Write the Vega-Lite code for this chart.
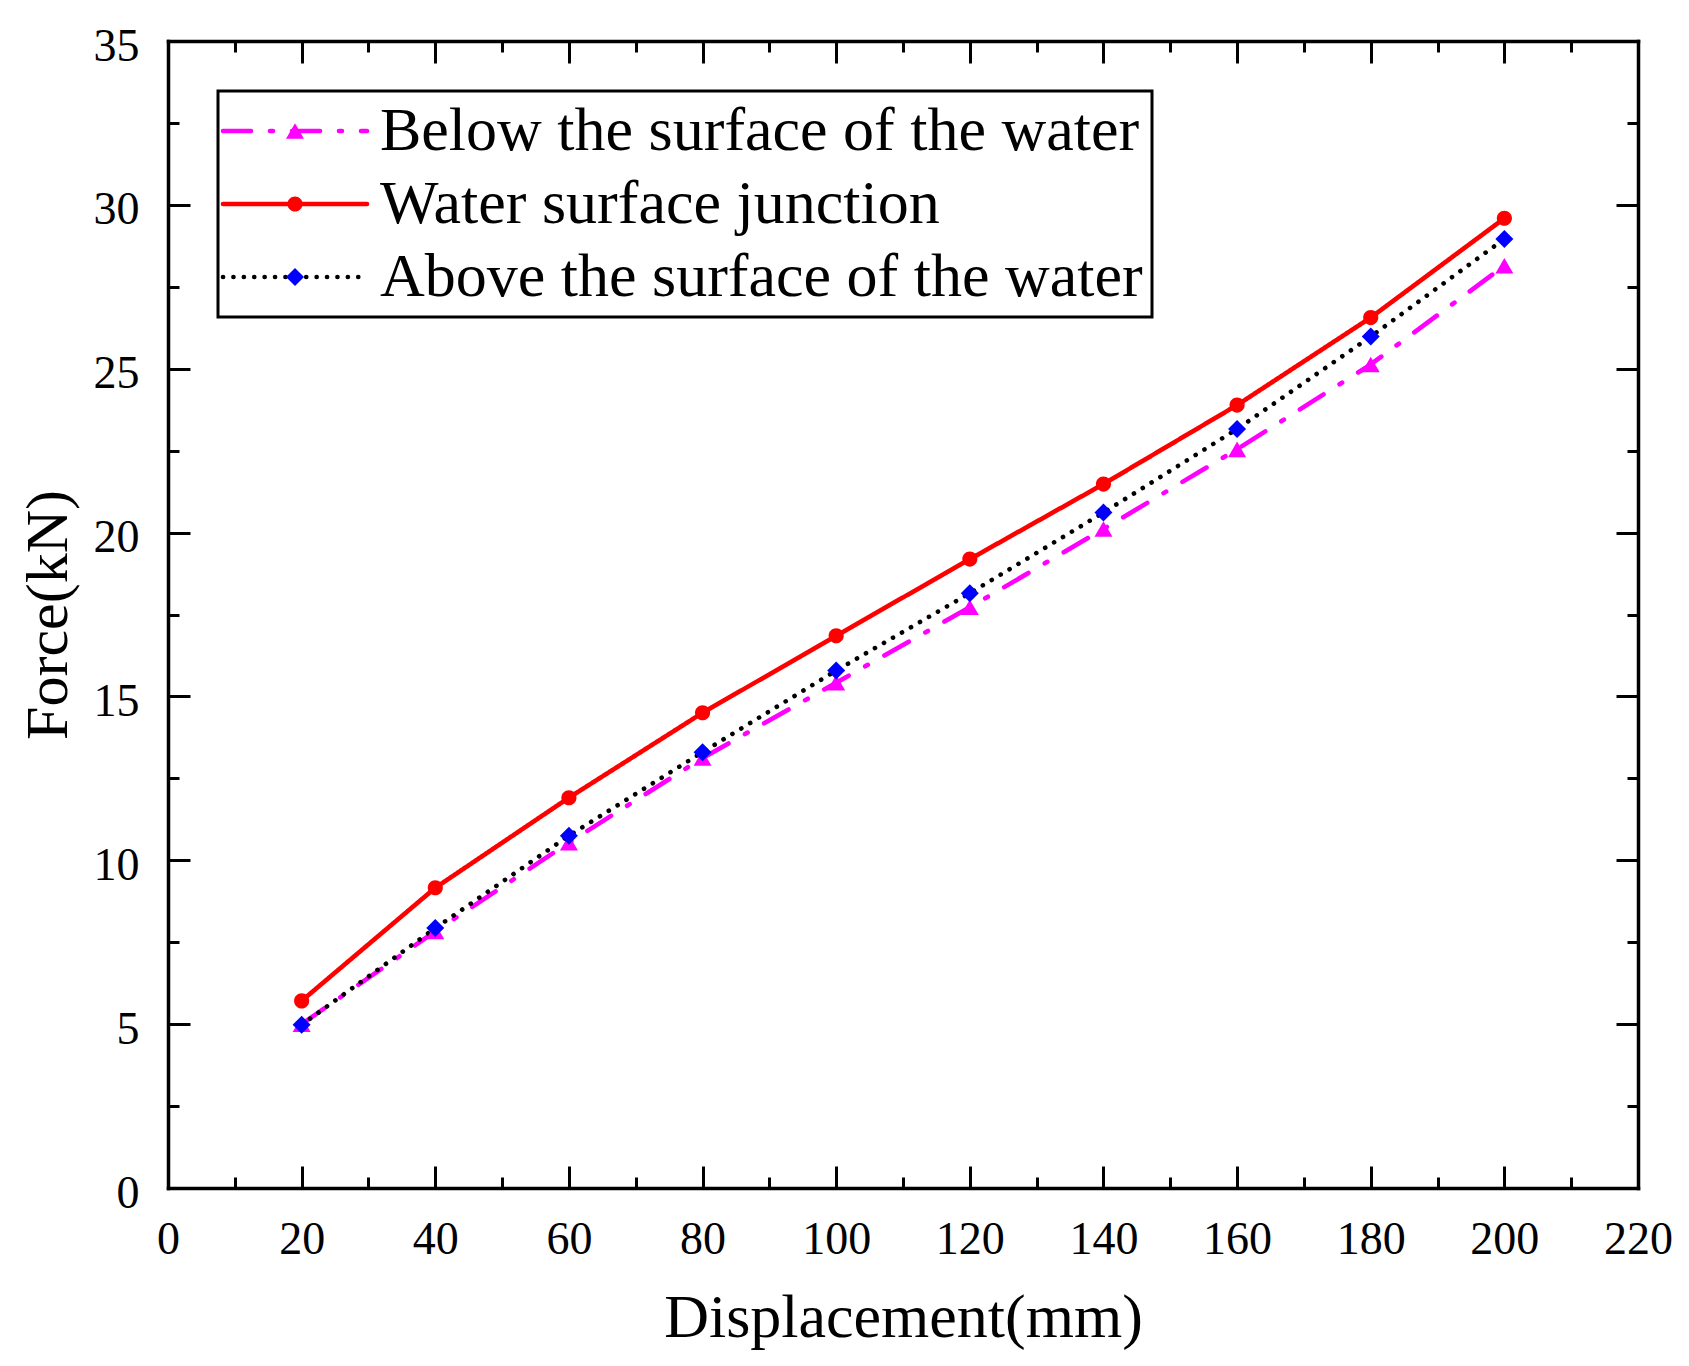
{
  "$schema": "https://vega.github.io/schema/vega-lite/v6.json",
  "width": 1470,
  "height": 1147,
  "autosize": "none",
  "padding": {"left": 168, "top": 41, "right": 51, "bottom": 178},
  "background": "white",
  "config": {
    "view": {"stroke": null},
    "font": "Liberation Serif",
    "axis": {
      "domainColor": "black",
      "domainWidth": 3.5,
      "domainCap": "square",
      "tickColor": "black",
      "tickWidth": 3,
      "grid": false,
      "labelFont": "Liberation Serif",
      "labelFontSize": 46,
      "labelColor": "black",
      "labelFlush": false,
      "labelOverlap": false,
      "labelBound": false,
      "titleFont": "Liberation Serif",
      "titleFontSize": 60,
      "titleFontWeight": "normal",
      "titleColor": "black"
    }
  },
  "data": {
    "values": [
      {"series": "Below the surface of the water", "displacement": 20, "force": 5.0},
      {"series": "Below the surface of the water", "displacement": 40, "force": 7.83},
      {"series": "Below the surface of the water", "displacement": 60, "force": 10.54},
      {"series": "Below the surface of the water", "displacement": 80, "force": 13.12},
      {"series": "Below the surface of the water", "displacement": 100, "force": 15.42},
      {"series": "Below the surface of the water", "displacement": 120, "force": 17.72},
      {"series": "Below the surface of the water", "displacement": 140, "force": 20.11},
      {"series": "Below the surface of the water", "displacement": 160, "force": 22.54},
      {"series": "Below the surface of the water", "displacement": 180, "force": 25.13},
      {"series": "Below the surface of the water", "displacement": 200, "force": 28.14},
      {"series": "Water surface junction", "displacement": 20, "force": 5.71},
      {"series": "Water surface junction", "displacement": 40, "force": 9.16},
      {"series": "Water surface junction", "displacement": 60, "force": 11.91},
      {"series": "Water surface junction", "displacement": 80, "force": 14.5},
      {"series": "Water surface junction", "displacement": 100, "force": 16.85},
      {"series": "Water surface junction", "displacement": 120, "force": 19.19},
      {"series": "Water surface junction", "displacement": 140, "force": 21.48},
      {"series": "Water surface junction", "displacement": 160, "force": 23.89},
      {"series": "Water surface junction", "displacement": 180, "force": 26.56},
      {"series": "Water surface junction", "displacement": 200, "force": 29.59},
      {"series": "Above the surface of the water", "displacement": 20, "force": 4.98},
      {"series": "Above the surface of the water", "displacement": 40, "force": 7.93},
      {"series": "Above the surface of the water", "displacement": 60, "force": 10.75},
      {"series": "Above the surface of the water", "displacement": 80, "force": 13.3},
      {"series": "Above the surface of the water", "displacement": 100, "force": 15.79},
      {"series": "Above the surface of the water", "displacement": 120, "force": 18.15},
      {"series": "Above the surface of the water", "displacement": 140, "force": 20.61},
      {"series": "Above the surface of the water", "displacement": 160, "force": 23.16},
      {"series": "Above the surface of the water", "displacement": 180, "force": 25.98},
      {"series": "Above the surface of the water", "displacement": 200, "force": 28.96}
    ]
  },
  "layer": [
    {
      "mark": {"type": "line", "strokeWidth": 4.6, "strokeCap": "round"},
      "encoding": {
        "x": {
          "field": "displacement", "type": "quantitative",
          "scale": {"domain": [0, 220], "nice": false, "zero": false},
          "axis": {
            "orient": "bottom", "values": [0, 20, 40, 60, 80, 100, 120, 140, 160, 180, 200, 220],
            "tickSize": -22, "labelPadding": 51, "title": "Displacement(mm)", "titlePadding": 25, "titleFontSize": 62
          }
        },
        "y": {
          "field": "force", "type": "quantitative",
          "scale": {"domain": [0, 35], "nice": false},
          "axis": {
            "orient": "left", "values": [0, 5, 10, 15, 20, 25, 30, 35],
            "tickSize": -22, "labelPadding": 51, "labelOffset": 5, "title": "Force(kN)", "titlePadding": 14
          }
        },
        "color": {
          "field": "series", "type": "nominal",
          "scale": {
            "domain": ["Below the surface of the water", "Water surface junction", "Above the surface of the water"],
            "range": ["#ff00ff", "#ff0000", "#000000"]
          },
          "legend": {
            "orient": "top-left", "offset": 50, "title": null,
            "symbolType": "M-8,0H8", "symbolSize": 324, "symbolStrokeWidth": 4.6,
            "symbolOffset": 37,
            "labelFont": "Liberation Serif", "labelFontSize": 62, "labelColor": "black",
            "labelOffset": 54, "labelLimit": 2000, "rowPadding": 11, "padding": 9,
            "strokeColor": "black", "fillColor": "white", "cornerRadius": 0,
            "encode": {
              "legend": {"update": {"strokeWidth": {"value": 3}}},
              "symbols": {"update": {
                "strokeDash": {"signal": "scale('strokeDash', datum.value)"},
                "strokeCap": {"value": "round"}
              }}
            }
          }
        },
        "strokeDash": {
          "field": "series", "type": "nominal",
          "scale": {
            "domain": ["Below the surface of the water", "Water surface junction", "Above the surface of the water"],
            "range": [[28, 19, 3, 19], [1, 0], [0.1, 10.3]]
          },
          "legend": null
        }
      }
    },
    {
      "mark": {"type": "point", "filled": true, "opacity": 1, "strokeWidth": 0, "size": 324},
      "encoding": {
        "x": {
          "field": "displacement", "type": "quantitative",
          "axis": {
            "orient": "bottom", "values": [10, 30, 50, 70, 90, 110, 130, 150, 170, 190, 210],
            "tickSize": -11, "labels": false, "domain": false, "title": null
          }
        },
        "y": {
          "field": "force", "type": "quantitative",
          "axis": {
            "orient": "left", "values": [2.5, 7.5, 12.5, 17.5, 22.5, 27.5, 32.5],
            "tickSize": -11, "labels": false, "domain": false, "title": null
          }
        },
        "shape": {
          "field": "series", "type": "nominal",
          "scale": {
            "domain": ["Below the surface of the water", "Water surface junction", "Above the surface of the water"],
            "range": ["triangle-up", "M0.84,0A0.84,0.84,0,1,1,-0.84,0A0.84,0.84,0,1,1,0.84,0Z", "diamond"]
          },
          "legend": {
            "orient": "none", "legendX": 87, "legendY": 50, "title": null,
            "symbolSize": 324, "labelFont": "Liberation Serif", "labelFontSize": 62,
            "labelExpr": "''", "labelOffset": 13, "rowPadding": 11, "padding": 9,
            "encode": {
              "symbols": {"update": {
                "fill": {"signal": "scale('fill', datum.value)"},
                "fillOpacity": {"value": 1},
                "strokeWidth": {"value": 0}
              }}
            }
          }
        },
        "fill": {
          "field": "series", "type": "nominal",
          "scale": {
            "domain": ["Below the surface of the water", "Water surface junction", "Above the surface of the water"],
            "range": ["#ff00ff", "#ff0000", "#0000ff"]
          },
          "legend": null
        }
      }
    },
    {
      "mark": {"type": "point", "opacity": 0},
      "encoding": {
        "x": {
          "field": "displacement", "type": "quantitative",
          "axis": {
            "orient": "top", "values": [0, 20, 40, 60, 80, 100, 120, 140, 160, 180, 200, 220],
            "tickSize": -22, "labels": false, "title": null
          }
        },
        "y": {
          "field": "force", "type": "quantitative",
          "axis": {
            "orient": "right", "values": [0, 5, 10, 15, 20, 25, 30, 35],
            "tickSize": -22, "labels": false, "title": null
          }
        }
      }
    },
    {
      "mark": {"type": "point", "opacity": 0},
      "encoding": {
        "x": {
          "field": "displacement", "type": "quantitative",
          "axis": {
            "orient": "top", "values": [10, 30, 50, 70, 90, 110, 130, 150, 170, 190, 210],
            "tickSize": -11, "labels": false, "domain": false, "title": null
          }
        },
        "y": {
          "field": "force", "type": "quantitative",
          "axis": {
            "orient": "right", "values": [2.5, 7.5, 12.5, 17.5, 22.5, 27.5, 32.5],
            "tickSize": -11, "labels": false, "domain": false, "title": null
          }
        }
      }
    }
  ],
  "resolve": {"axis": {"x": "independent", "y": "independent"}}
}
